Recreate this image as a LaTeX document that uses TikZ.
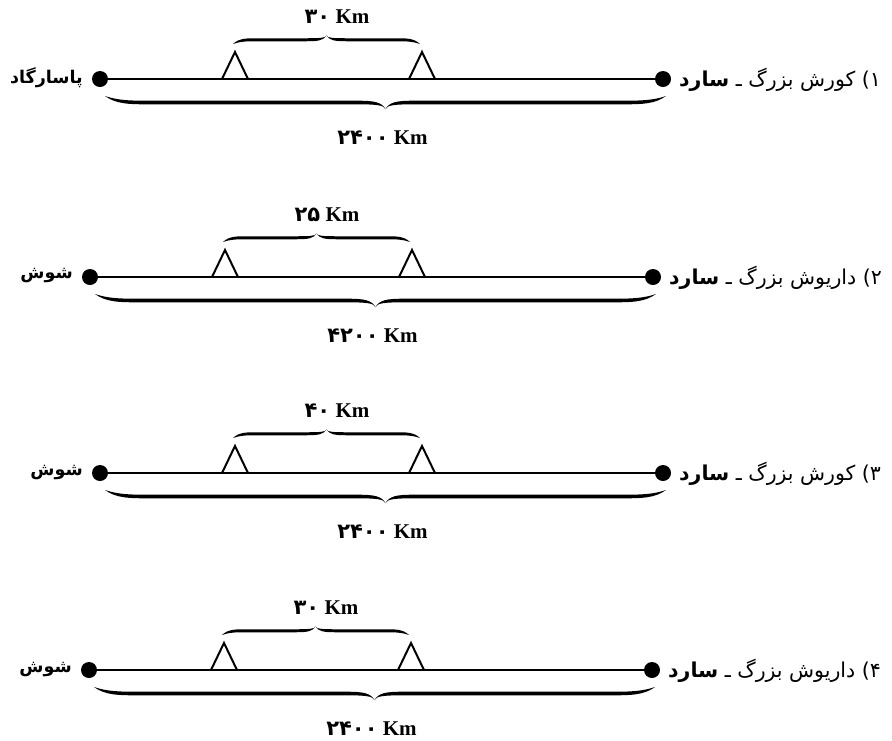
\documentclass[tikz,border=0pt]{standalone}
\usepackage{fontspec}
\setmainfont{Liberation Serif}
\newfontfamily\fa[Script=Arabic]{DejaVu Sans}
\TeXXeTstate=1
\tikzset{
  dotnode/.style={circle,fill=black,inner sep=0pt,minimum size=16pt},
  mainline/.style={line width=2.4pt},
  tri/.style={line width=2pt,line join=miter},
  kmlabel/.style={font=\fontsize{21}{24}\selectfont\bfseries,inner sep=0pt},
  leftlab/.style={anchor=east,inner sep=0pt,font=\fontsize{17.5}{20}\fa\bfseries},
  rightlab/.style={anchor=west,inner sep=0pt,font=\fontsize{20.5}{24}\fa},
}
% tapered curly brace: #1 start x, #2 end x, #3 y of ends, #4 direction (1 down, -1 up),
% #5 amplitude, #6 end curl length, #7 tip curl length, #8 half thickness
\newcommand\mybrace[8]{%
  \pgfmathsetmacro\bH{((#2)-(#1))/2}%
  \pgfmathsetmacro\bA{#1}%
  \pgfmathsetmacro\bB{#2}%
  \foreach \bx/\bs in {\bA/1,\bB/-1}{%
    \begin{scope}[shift={(\bx,#3)},xscale=\bs,yscale=#4]
      \fill (0,0) .. controls ({0.25*#6},{0.5*#5+#8}) and ({0.55*#6},{0.5*#5+#8}) .. (#6,{0.5*#5+#8})
        -- ({\bH-#7},{0.5*#5+#8}) .. controls ({\bH-0.35*#7},{0.5*#5+#8}) and ({\bH-0.05*#7},{0.7*#5}) .. (\bH,#5)
        .. controls ({\bH-0.15*#7},{0.6*#5-#8}) and ({\bH-0.4*#7},{0.5*#5-#8}) .. ({\bH-#7},{0.5*#5-#8})
        -- (#6,{0.5*#5-#8}) .. controls ({0.6*#6},{0.5*#5-#8}) and ({0.3*#6},{0.5*#5-#8}) .. (0,0) -- cycle;
    \end{scope}}%
}
% #1 suffix, #2 line y, #3 left x, #4 right x, #5 top number, #6 bottom number, #7 left label, #8 king
\newcommand\chainrow[8]{%
  \node[dotnode] (l#1) at (#3,#2) {};
  \node[dotnode] (r#1) at (#4,#2) {};
  \draw[mainline] (l#1) -- (r#1);
  \coordinate (ta#1) at ({#3+135},{#2-27});
  \coordinate (tb#1) at ({#3+322},{#2-27});
  \draw[tri] ({#3+122},#2) -- (ta#1) -- ({#3+148},#2);
  \draw[tri] ({#3+309},#2) -- (tb#1) -- ({#3+335},#2);
  \mybrace{#3+133}{#3+320}{#2-35}{-1}{8.5}{24}{20}{1.5}
  \mybrace{#3+5}{#4+3}{#2+17}{1}{13}{45}{28}{1.8}
  \node[kmlabel] (tl#1) at ({#3+237},{#2-62}) {{\fa\bfseries #5} Km};
  \node[kmlabel] (bl#1) at ({(#3+#4)/2+1},{#2+59}) {{\fa\bfseries #6} Km};
  \node[leftlab] (ln#1) at ({#3-17},{#2-1}) {\beginR #7\endR};
  \node[rightlab] (rn#1) at ({#4+16},{#2+1}) {\beginR #8 بزرگ ـ {\bfseries سارد}\endR\ \hbox{)}\hbox{#1}};
}
\begin{document}
\begin{tikzpicture}[x=1pt,y=-1pt]
\useasboundingbox (0,0) rectangle (892,740);
\chainrow{۱}{79}{100}{663}{۳۰}{۲۴۰۰}{پاسارگاد}{کورش}
\chainrow{۲}{277}{90}{653}{۲۵}{۴۲۰۰}{شوش}{داریوش}
\chainrow{۳}{473}{100}{663}{۴۰}{۲۴۰۰}{شوش}{کورش}
\chainrow{۴}{670}{89}{652}{۳۰}{۲۴۰۰}{شوش}{داریوش}
\end{tikzpicture}
\end{document}
